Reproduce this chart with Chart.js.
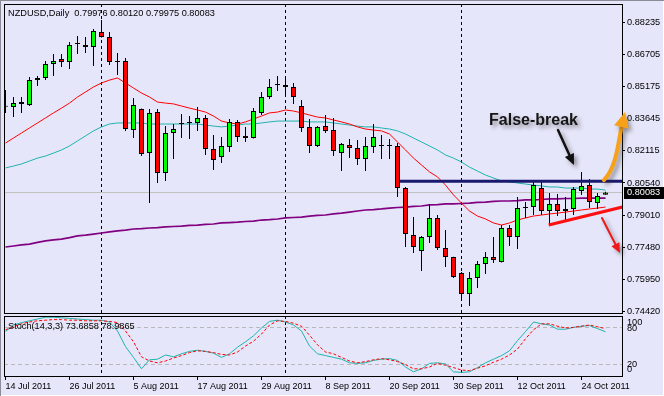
<!DOCTYPE html>
<html><head><meta charset="utf-8">
<script src="https://cdn.jsdelivr.net/npm/chart.js@4.4.1/dist/chart.umd.min.js"></script>
<style>
html,body{margin:0;padding:0;background:#E6E6FA;}
#wrap{position:relative;width:664px;height:396px;background:#E6E6FA;overflow:hidden;box-shadow:inset 1px 1px 0 #8c8c99, inset -1px -1px 0 #ffffff;}
canvas{position:absolute;left:0;}
</style></head><body>
<div id="wrap">
<canvas id="main" width="664" height="316" style="top:0;width:664px;height:316px"></canvas>
<canvas id="stoch" width="664" height="83" style="top:313px;width:664px;height:83px"></canvas>
</div>
<script>
// ---------------- DATA ----------------
const symbolTitle = 'NZDUSD,Daily';
const stochTitle = 'Stoch(14,3,3)';

const openP = [0.8418,0.8417,0.8441,0.8427,0.8546,0.8556,0.8623,0.8647,0.8632,0.8718,
0.8714,0.8704,0.8776,0.8752,0.8632,0.8637,0.8307,0.8408,0.8197,0.8393,
0.8102,0.8293,0.8336,0.8341,0.8341,0.8365,0.8217,0.8178,0.8226,0.8346,
0.8279,0.8269,0.8389,0.8465,0.8522,0.8522,0.8513,0.8422,0.8322,0.8231,
0.8326,0.8307,0.8197,0.8236,0.8221,0.8169,0.8226,0.8231,0.8231,0.8231,
0.8030,0.7805,0.7729,0.7796,0.7887,0.7743,0.7700,0.7624,0.7523,0.7600,
0.7667,0.7700,0.7676,0.7839,0.7796,0.7935,0.7939,0.8030,0.7920,0.7954,
0.7920,0.7930,0.8016,0.8044,0.7958,0.79976];

const highP = [0.8499,0.8465,0.8465,0.8561,0.8565,0.8637,0.8671,0.8671,0.8728,0.8757,
0.8752,0.8790,0.8833,0.8776,0.8675,0.8652,0.8460,0.8410,0.8408,0.8408,
0.8326,0.8336,0.8384,0.8374,0.8417,0.8379,0.8283,0.8274,0.8360,0.8355,
0.8322,0.8412,0.8489,0.8551,0.8565,0.8556,0.8532,0.8451,0.8360,0.8326,
0.8379,0.8365,0.8245,0.8264,0.8260,0.8274,0.8336,0.8283,0.8264,0.8245,
0.8035,0.7891,0.7801,0.7954,0.7901,0.7829,0.7702,0.7629,0.7629,0.7681,
0.7724,0.7796,0.7853,0.7853,0.7987,0.7963,0.8068,0.8064,0.8006,0.8001,
0.7987,0.8035,0.8107,0.8073,0.8006,0.80120];

const lowP = [0.8389,0.8369,0.8389,0.8422,0.8518,0.8546,0.8565,0.8608,0.8599,0.8671,
0.8675,0.8613,0.8750,0.8618,0.8570,0.8303,0.8269,0.8183,0.7958,0.8054,
0.8064,0.8169,0.8269,0.8264,0.8303,0.8188,0.8116,0.8150,0.8202,0.8250,
0.8250,0.8267,0.8379,0.8456,0.8494,0.8465,0.8432,0.8298,0.8197,0.8226,
0.8293,0.8183,0.8111,0.8173,0.8140,0.8111,0.8197,0.8169,0.8169,0.7987,
0.7748,0.7719,0.7633,0.7767,0.7734,0.7652,0.7600,0.7490,0.7466,0.7552,
0.7619,0.7672,0.7674,0.7753,0.7739,0.7887,0.7901,0.7901,0.7853,0.7896,
0.7872,0.7901,0.7997,0.7934,0.7930,0.79975];

const closeP = [0.8418,0.8436,0.8432,0.8546,0.8556,0.8623,0.8637,0.8632,0.8714,0.8718,
0.8704,0.8781,0.8752,0.8632,0.8632,0.8312,0.8427,0.8193,0.8389,0.8102,
0.8293,0.8312,0.8336,0.8341,0.8365,0.8217,0.8164,0.8231,0.8346,0.8274,
0.8269,0.8398,0.8465,0.8513,0.8522,0.8513,0.8465,0.8317,0.8231,0.8322,
0.8303,0.8207,0.8240,0.8221,0.8169,0.8231,0.8274,0.8231,0.8231,0.8030,
0.7810,0.7748,0.7796,0.7887,0.7743,0.7700,0.7605,0.7523,0.7600,0.7667,
0.7700,0.7686,0.7839,0.7796,0.7934,0.7935,0.8044,0.7920,0.7954,0.7920,
0.7930,0.8025,0.8040,0.7963,0.7992,0.80083];

const maFast = [0.8245,0.8269,0.8293,0.8317,0.8341,0.8365,0.8389,0.8412,0.8436,0.8465,
0.8489,0.8513,0.8532,0.8546,0.8556,0.8532,0.8508,0.8484,0.8465,0.8441,
0.8436,0.8432,0.8422,0.8412,0.8403,0.8393,0.8374,0.8350,0.8341,0.8336,
0.8346,0.8360,0.8374,0.8389,0.8393,0.8403,0.8398,0.8389,0.8379,0.8369,
0.8365,0.8355,0.8346,0.8336,0.8322,0.8312,0.8307,0.8303,0.8288,0.8250,
0.8212,0.8173,0.8140,0.8107,0.8083,0.8044,0.7997,0.7958,0.7920,0.7896,
0.7882,0.7863,0.7853,0.7863,0.7877,0.7887,0.7896,0.7901,0.7906,0.7910,
0.7915,0.7920,0.7925,0.7930,0.7934,0.7939];

const maMid = [0.8126,0.8135,0.8145,0.8159,0.8173,0.8183,0.8197,0.8212,0.8231,0.8255,
0.8279,0.8303,0.8322,0.8336,0.8341,0.8341,0.8341,0.8341,0.8336,0.8336,
0.8336,0.8336,0.8336,0.8336,0.8336,0.8331,0.8326,0.8322,0.8326,0.8331,
0.8336,0.8336,0.8341,0.8346,0.8350,0.8350,0.8350,0.8350,0.8346,0.8346,
0.8346,0.8341,0.8336,0.8331,0.8326,0.8322,0.8322,0.8317,0.8312,0.8303,
0.8288,0.8269,0.8250,0.8231,0.8212,0.8188,0.8173,0.8154,0.8130,0.8111,
0.8092,0.8078,0.8064,0.8059,0.8054,0.8049,0.8044,0.8040,0.8035,0.8035,
0.8030,0.8030,0.8030,0.8025,0.8025,0.8020];

const maSlow = [0.7748,0.7753,0.7758,0.7762,0.7770,0.7777,0.7782,0.7786,0.7793,0.7801,
0.7805,0.7810,0.7815,0.7820,0.7825,0.7829,0.7834,0.7836,0.7839,0.7841,
0.7844,0.7846,0.7848,0.7851,0.7853,0.7856,0.7858,0.7863,0.7865,0.7867,
0.7870,0.7872,0.7877,0.7879,0.7882,0.7887,0.7889,0.7891,0.7896,0.7899,
0.7901,0.7906,0.7910,0.7915,0.7920,0.7925,0.7927,0.7930,0.7934,0.7937,
0.7939,0.7942,0.7944,0.7949,0.7951,0.7954,0.7954,0.7956,0.7958,0.7961,
0.7963,0.7966,0.7968,0.7968,0.7970,0.7973,0.7973,0.7975,0.7978,0.7978,
0.7980,0.7980,0.7982,0.7982,0.7982,0.7982];

const stochK = [74,85,89,92,95,98,98,97,96,95,
94,93,93,90,75,49,31,12,27,28,
35,32,37,41,43,41,38,31,37,48,
57,67,80,91,93,90,85,75,50,37,
34,31,28,22,21,22,26,28,29,26,
15,7,12,21,22,20,7,6,7,14,
22,28,34,42,59,74,90,87,85,78,
78,81,83,84,79,73.6858];

const stochD = [77,82,87,90,92,93,94,94,93,93,
92,92,92,91,89,75,57,32,25,22,
25,30,34,39,42,41,39,36,35,40,
50,58,70,85,92,91,88,83,68,52,
40,37,31,25,22,24,27,29,27,24,
19,12,12,15,21,18,14,10,9,13,
17,23,28,35,45,62,77,87,87,83,
80,81,83,85,82,78.9865];

const priceTicks = [0.88235,0.86705,0.85175,0.83645,0.82115,0.80540,0.79010,0.77480,0.75950,0.74420];
const dateTickIdx = [0,8,16,24,32,40,48,56,64,72];
const dateLabels = ['14 Jul 2011','26 Jul 2011','5 Aug 2011','17 Aug 2011','29 Aug 2011','8 Sep 2011','20 Sep 2011','30 Sep 2011','12 Oct 2011','24 Oct 2011'];
const separatorIdx = [12,35,57];            // month separators (1 Aug, 1 Sep, 3 Oct)
const stochLevels = [20,80];
const stochTickPos = [10.8,20,80,89];
const stochTickLabels = ['0','20','80','100'];

// drawn annotations (in data units: bar index, price)
const resistanceLine = [{x:49.3,y:0.8062},{x:77.1,y:0.8062}];
const supportTrend = [{x:67.9,y:0.7853},{x:77.1,y:0.7939}];
const falseBreakNote = {text:'False-break', x:60.44, y:0.8350};
const blackArrow = [[69.06,0.8307],[71.06,0.8140]];
const orangeArrow = [[74.8,0.8068],[76.31,0.8126],[76.56,0.8236],[77.0,0.8322],[77.44,0.8393]];
const redArrow = [[74.56,0.7887],[76.81,0.7719]];

// ---------------- CHART ----------------
const FONT = "'Liberation Sans', Arial, sans-serif";
const X_MIN = -0.1875, X_MAX = 77.0625;
const idx = openP.map((_, i) => i);
const last = idx.length - 1;
const bodyColors = idx.map(i => closeP[i] > openP[i] ? '#00FF00' : (closeP[i] < openP[i] ? '#FF0000' : '#000000'));
const bidPrice = closeP[last];

function drawArrowHead(ctx, bx, by, tx, ty, w, color) {
  const ang = Math.atan2(ty - by, tx - bx);
  const nx = -Math.sin(ang), ny = Math.cos(ang);
  ctx.fillStyle = color;
  ctx.beginPath();
  ctx.moveTo(tx, ty);
  ctx.lineTo(bx + nx * w / 2, by + ny * w / 2);
  ctx.lineTo(bx - nx * w / 2, by - ny * w / 2);
  ctx.closePath();
  ctx.fill();
}
function straightArrow(ctx, x, y, pts, color, lw, headLen, headW) {
  const fx = x.getPixelForValue(pts[0][0]), fy = y.getPixelForValue(pts[0][1]);
  const tx = x.getPixelForValue(pts[1][0]), ty = y.getPixelForValue(pts[1][1]);
  const d = Math.hypot(tx - fx, ty - fy);
  const bx = tx - (tx - fx) / d * headLen, by = ty - (ty - fy) / d * headLen;
  ctx.strokeStyle = color; ctx.lineWidth = lw; ctx.lineCap = 'round';
  ctx.beginPath(); ctx.moveTo(fx, fy); ctx.lineTo(bx, by); ctx.stroke();
  drawArrowHead(ctx, bx, by, tx, ty, headW, color);
}

const mainDecor = {
  id: 'mainDecor',
  beforeDatasetsDraw(chart) {
    const {ctx, chartArea: a, scales: {x}} = chart;
    ctx.save();
    ctx.beginPath(); ctx.rect(a.left, a.top, a.right - a.left, a.bottom - a.top); ctx.clip();
    ctx.strokeStyle = '#000'; ctx.lineWidth = 1; ctx.setLineDash([3, 3]);
    separatorIdx.forEach(i => {
      const X = x.getPixelForValue(i);
      ctx.beginPath(); ctx.moveTo(X, a.top); ctx.lineTo(X, a.bottom); ctx.stroke();
    });
    ctx.restore();
  },
  afterDatasetsDraw(chart) {
    const {ctx, chartArea: a, scales: {x, y}} = chart;
    ctx.save();
    ctx.strokeStyle = '#000'; ctx.lineWidth = 1;
    ctx.strokeRect(a.left + 0.5, a.top + 0.5, a.right - a.left, a.bottom - a.top);
    // header
    ctx.fillStyle = '#000'; ctx.font = '9.2px ' + FONT; ctx.textBaseline = 'alphabetic'; ctx.textAlign = 'left';
    const hdr = symbolTitle + '  ' + [openP[last], highP[last], lowP[last], closeP[last]].map(v => v.toFixed(5)).join(' ');
    ctx.fillText(hdr, 8, 16);
    // current price box
    const by = y.getPixelForValue(bidPrice);
    ctx.fillStyle = '#000'; ctx.fillRect(a.right + 2, Math.round(by) - 6, 40, 12);
    ctx.fillStyle = '#fff'; ctx.textBaseline = 'middle';
    ctx.fillText(bidPrice.toFixed(5), a.right + 5, by);
    // annotations with soft shadows
    ctx.shadowColor = 'rgba(40,40,40,0.45)'; ctx.shadowBlur = 4; ctx.shadowOffsetX = 3; ctx.shadowOffsetY = 3;
    ctx.font = 'bold 16px ' + FONT; ctx.fillStyle = '#151515'; ctx.textBaseline = 'middle';
    ctx.fillText(falseBreakNote.text, x.getPixelForValue(falseBreakNote.x), y.getPixelForValue(falseBreakNote.y));
    straightArrow(ctx, x, y, blackArrow, '#111111', 2.5, 11, 10);
    straightArrow(ctx, x, y, redArrow, '#F01818', 2, 10, 9);
    // orange curved arrow
    const P = orangeArrow.map(p => [x.getPixelForValue(p[0]), y.getPixelForValue(p[1])]);
    ctx.strokeStyle = '#F7A11A'; ctx.lineWidth = 4; ctx.lineCap = 'round';
    ctx.beginPath(); ctx.moveTo(P[0][0], P[0][1]);
    ctx.bezierCurveTo(P[1][0], P[1][1], P[2][0], P[2][1], P[3][0], P[3][1]);
    ctx.stroke();
    drawArrowHead(ctx, P[3][0], P[3][1], P[4][0], P[4][1], 15, '#F7A11A');
    ctx.restore();
  }
};

const noPad = s => { s.paddingTop = 0; s.paddingBottom = 0; s.paddingLeft = 0; s.paddingRight = 0; };

new Chart(document.getElementById('main'), {
  type: 'bar',
  data: {
    datasets: [
      {type: 'line', data: resistanceLine, borderColor: '#191970', borderWidth: 3, pointRadius: 0, order: -2},
      {type: 'line', data: supportTrend, borderColor: '#FF1010', borderWidth: 3, pointRadius: 0, order: -1},
      {data: idx.map(i => ({x: i, y: [openP[i], closeP[i]]})), backgroundColor: bodyColors, borderColor: '#000', borderWidth: 1,
        borderSkipped: false, barThickness: 5, grouped: false, minBarLength: 1, inflateAmount: 0, order: 0},
      {data: idx.map(i => ({x: i, y: [lowP[i], highP[i]]})), backgroundColor: '#000', borderWidth: 0,
        barThickness: 1, grouped: false, inflateAmount: 0, order: 1},
      {type: 'line', data: idx.map(i => ({x: i, y: maFast[i]})), borderColor: '#FF0000', borderWidth: 1, pointRadius: 0, order: 2},
      {type: 'line', data: idx.map(i => ({x: i, y: maMid[i]})), borderColor: '#20B2AA', borderWidth: 1, pointRadius: 0, order: 3},
      {type: 'line', data: idx.map(i => ({x: i, y: maSlow[i]})), borderColor: '#800080', borderWidth: 1.7, pointRadius: 0, order: 4},
      {type: 'line', data: [{x: X_MIN, y: bidPrice}, {x: X_MAX, y: bidPrice}], borderColor: '#C0C0C0', borderWidth: 1, pointRadius: 0, order: 5}
    ]
  },
  options: {
    responsive: false, animation: false, events: [],
    layout: {padding: {left: 4, top: 4, right: 0, bottom: 3}},
    plugins: {legend: {display: false}, tooltip: {enabled: false}},
    scales: {
      x: {type: 'linear', min: X_MIN, max: X_MAX, offset: false, display: false, afterFit: noPad},
      y: {type: 'linear', position: 'right', min: 0.74326, max: 0.89096,
        afterBuildTicks: s => { s.ticks = priceTicks.map(v => ({value: v})); },
        afterFit: s => { s.width = 42; noPad(s); },
        ticks: {callback: v => Number(v).toFixed(5), padding: 2, autoSkip: false, color: '#000', font: {family: FONT, size: 9.2}},
        grid: {drawOnChartArea: false, drawTicks: true, tickLength: 3, color: '#000'},
        border: {display: true, color: '#000'}}
    }
  },
  plugins: [mainDecor]
});

const stochDecor = {
  id: 'stochDecor',
  beforeDatasetsDraw(chart) {
    const {ctx, chartArea: a, scales: {x, y}} = chart;
    ctx.save();
    ctx.beginPath(); ctx.rect(a.left, a.top, a.right - a.left, a.bottom - a.top); ctx.clip();
    ctx.lineWidth = 1;
    ctx.strokeStyle = '#B8B8B8'; ctx.setLineDash([4, 3]);
    stochLevels.forEach(l => {
      const Y = Math.floor(y.getPixelForValue(l)) + 0.5;
      ctx.beginPath(); ctx.moveTo(a.left, Y); ctx.lineTo(a.right, Y); ctx.stroke();
    });
    ctx.strokeStyle = '#000'; ctx.setLineDash([3, 3]);
    separatorIdx.forEach(i => {
      const X = x.getPixelForValue(i);
      ctx.beginPath(); ctx.moveTo(X, a.top); ctx.lineTo(X, a.bottom); ctx.stroke();
    });
    ctx.restore();
  },
  afterDatasetsDraw(chart) {
    const {ctx, chartArea: a} = chart;
    ctx.save();
    ctx.strokeStyle = '#000'; ctx.lineWidth = 1;
    ctx.strokeRect(a.left + 0.5, a.top + 0.5, a.right - a.left, a.bottom - a.top);
    ctx.fillStyle = '#000'; ctx.font = '9.2px ' + FONT; ctx.textBaseline = 'alphabetic'; ctx.textAlign = 'left';
    ctx.fillText(stochTitle + ' ' + stochK[last].toFixed(4) + ' ' + stochD[last].toFixed(4), 8, 16);
    ctx.restore();
  }
};

new Chart(document.getElementById('stoch'), {
  type: 'line',
  data: {
    datasets: [
      {data: idx.map(i => ({x: i, y: stochK[i]})), borderColor: '#20B2AA', borderWidth: 1, pointRadius: 0, order: 1},
      {data: idx.map(i => ({x: i, y: stochD[i]})), borderColor: '#FF0000', borderWidth: 1, borderDash: [3, 2], pointRadius: 0, order: 0}
    ]
  },
  options: {
    responsive: false, animation: false, events: [],
    layout: {padding: {left: 4, top: 3, right: 0, bottom: 0}},
    plugins: {legend: {display: false}, tooltip: {enabled: false}},
    scales: {
      x: {type: 'linear', position: 'bottom', min: X_MIN, max: X_MAX, offset: false,
        afterBuildTicks: s => { s.ticks = dateTickIdx.map(v => ({value: v})); },
        afterFit: s => { s.height = 20; noPad(s); },
        ticks: {callback: v => dateLabels[dateTickIdx.indexOf(v)], align: 'start', padding: 1, autoSkip: false,
          maxRotation: 0, minRotation: 0, color: '#000', font: {family: FONT, size: 9}},
        grid: {drawOnChartArea: false, drawTicks: true, tickLength: 4, color: '#000'},
        border: {display: true, color: '#000'}},
      y: {type: 'linear', position: 'right', min: 0, max: 100,
        afterBuildTicks: s => { s.ticks = stochTickPos.map(v => ({value: v})); },
        afterFit: s => { s.width = 42; noPad(s); },
        ticks: {callback: (v, i) => stochTickLabels[i], padding: 5, autoSkip: false, color: '#000', font: {family: FONT, size: 9.2}},
        grid: {drawOnChartArea: false, drawTicks: false},
        border: {display: true, color: '#000'}}
    }
  },
  plugins: [stochDecor]
});
</script>
</body></html>
